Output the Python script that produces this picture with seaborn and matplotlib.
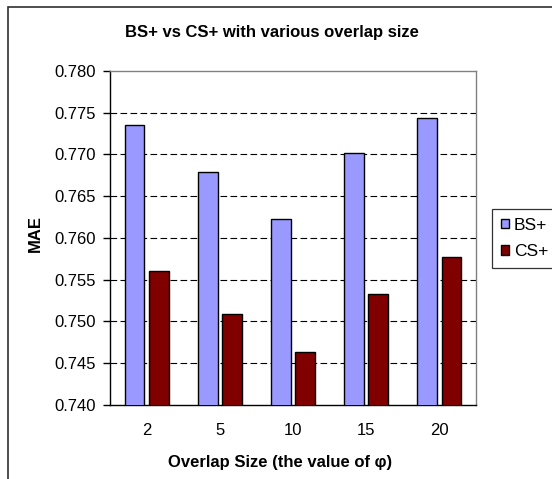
import matplotlib
matplotlib.use("Agg")
import matplotlib.pyplot as plt
from matplotlib.patches import Rectangle
from matplotlib.ticker import FixedLocator
import pandas as pd
import seaborn as sns

# Mean absolute error for each overlap size
overlap_sizes = ["2", "5", "10", "15", "20"]
bs_plus = [0.7735, 0.7679, 0.7623, 0.7702, 0.7744]
cs_plus = [0.7560, 0.7509, 0.7463, 0.7533, 0.7577]
series_names = ["BS+", "CS+"]
y_ticks = [0.740, 0.745, 0.750, 0.755, 0.760, 0.765, 0.770, 0.775, 0.780]

df = pd.DataFrame({
    "overlap": overlap_sizes * 2,
    "MAE": bs_plus + cs_plus,
    "method": [series_names[0]] * len(overlap_sizes) + [series_names[1]] * len(overlap_sizes),
})

sns.set_style("white")
plt.rcParams["font.family"] = ["Liberation Sans", "DejaVu Sans"]
plt.rcParams["text.color"] = "black"
plt.rcParams["xtick.color"] = "black"
plt.rcParams["ytick.color"] = "black"
plt.rcParams["axes.labelcolor"] = "black"

W, H = 552, 479
fig = plt.figure(figsize=(W / 100, H / 100), dpi=100)
ax = fig.add_axes([110 / W, 1 - 405 / H, (476 - 110) / W, (405 - 71) / H])

sns.barplot(
    data=df, x="overlap", y="MAE", hue="method", order=overlap_sizes,
    hue_order=series_names, palette={"BS+": "#9999FF", "CS+": "#800000"},
    saturation=1, width=0.66, gap=0.18, edgecolor="black", linewidth=1.0,
    errorbar=None, ax=ax, legend=True, zorder=3,
)

ax.set_ylim(y_ticks[0], y_ticks[-1])
ax.set_xlim(-0.5, len(overlap_sizes) - 0.5)
ax.set_yticks(y_ticks)
ax.set_yticklabels([f"{v:.3f}" for v in y_ticks], fontsize=12)
ax.set_xticks(range(len(overlap_sizes)))
ax.set_xticklabels(overlap_sizes, fontsize=12)
ax.xaxis.set_minor_locator(FixedLocator([i - 0.5 for i in range(len(overlap_sizes) + 1)]))
ax.tick_params(axis="x", which="major", length=0, pad=13)
ax.tick_params(axis="x", which="minor", length=5, width=1, color="black", direction="out")
ax.tick_params(axis="y", length=5, width=1, color="black", direction="out", pad=5, left=True)

# dashed horizontal gridlines inside the plot area
for v in y_ticks[1:-1]:
    ax.axhline(v, color="black", lw=0.8, ls=(0, (6, 3)), zorder=1)

for side in ("left", "bottom"):
    ax.spines[side].set_color("black")
    ax.spines[side].set_linewidth(1.0)
for side in ("top", "right"):
    ax.spines[side].set_color("#808080")
    ax.spines[side].set_linewidth(1.0)
    ax.spines[side].set_visible(True)

ax.set_xlabel("")
ax.set_ylabel("")

# legend at the right edge of the chart
handles, labels = ax.get_legend_handles_labels()
ax.legend_.remove()
leg = fig.legend(
    handles, labels, loc="upper left", bbox_to_anchor=(492 / W, 1 - 209 / H),
    fontsize=12.5, frameon=True, fancybox=False, edgecolor="black",
    handlelength=0.5, handleheight=0.5, handletextpad=0.25,
    borderpad=0.5, labelspacing=0.65, borderaxespad=0,
)
leg.get_frame().set_linewidth(0.9)

# titles and axis labels
fig.text(272 / W, 1 - 32 / H, "BS+ vs CS+ with various overlap size",
         ha="center", va="center", fontsize=12, fontweight="bold")
fig.text(280 / W, 1 - 462 / H, "Overlap Size (the value of φ)",
         ha="center", va="center", fontsize=12, fontweight="bold")
fig.text(35 / W, 1 - 233 / H, "MAE", rotation=90,
         ha="center", va="center", fontsize=12, fontweight="bold")

# outer chart-area border
fig.patches.append(Rectangle((8 / W, -0.1), 1.2, 1 - 7 / H + 0.1,
                             transform=fig.transFigure, fill=False,
                             edgecolor="#303030", lw=1.2))

fig.savefig("out.png", dpi=100)
